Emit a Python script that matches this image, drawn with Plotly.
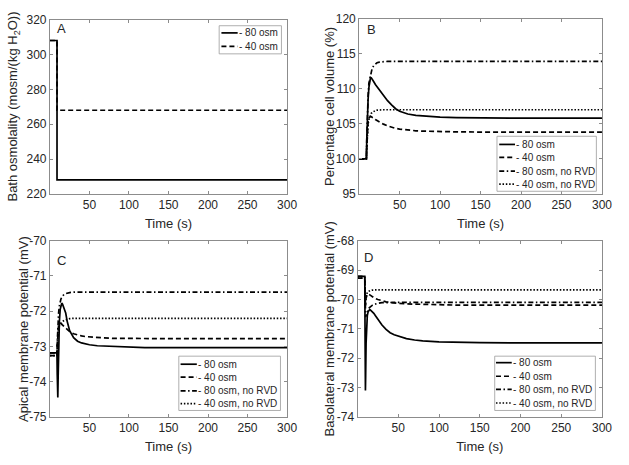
import plotly.graph_objects as go

W, H = 629, 465

# ---------------- data ----------------
# Panel A: bath osmolality
t_a = [0, 9, 9, 300]
osm_80 = [308, 308, 228, 228]
osm_40 = [308, 308, 268, 268]

# Common time base for panels B-D (s)
t = [0, 8.9, 9.3, 9.7, 10, 10.5, 11, 12, 13, 14, 15, 16, 18, 20, 22, 25, 30,
     35, 40, 45, 50, 60, 70, 80, 100, 120, 150, 200, 250, 300]

# Panel B: percentage cell volume
vol_80 = [100, 100, 102.5, 104.5, 105.8, 107.3, 108.5, 110.2, 111.2, 111.6,
          111.55, 111.4, 111.0, 110.6, 110.3, 109.9, 109.0, 108.3, 107.7,
          107.15, 106.8, 106.4, 106.2, 106.1, 105.95, 105.88, 105.83, 105.8,
          105.8, 105.8]
vol_40 = [100, 100, 101.5, 103, 104, 104.8, 105.3, 105.8, 106.0, 106.05,
          106.0, 105.95, 105.8, 105.6, 105.45, 105.25, 104.95, 104.7, 104.5,
          104.35, 104.25, 104.1, 104.0, 103.95, 103.88, 103.85, 103.82, 103.8,
          103.8, 103.8]
vol_80n = [100, 100, 102.5, 104.5, 106, 107.8, 109, 110.8, 111.4, 112.2,
           112.6, 112.9, 113.3, 113.55, 113.7, 113.8, 113.88, 113.9, 113.9,
           113.9, 113.9, 113.9, 113.9, 113.9, 113.9, 113.9, 113.9, 113.9,
           113.9, 113.9]
vol_40n = [100, 100, 101.5, 103, 103.8, 104.5, 105, 105.6, 106.0, 106.3,
           106.5, 106.6, 106.8, 106.9, 106.95, 107.0, 107.0, 107.0, 107.0,
           107.0, 107.0, 107.0, 107.0, 107.0, 107.0, 107.0, 107.0, 107.0,
           107.0, 107.0]

# Panel C: apical membrane potential (mV)
ap_80 = [-73.18, -73.18, -73.8, -74.3, -74.45, -73.8, -73.0, -72.3, -71.95,
         -71.8, -71.77, -71.8, -71.9, -72.05, -72.3, -72.55, -72.75, -72.85,
         -72.9, -72.93, -72.95, -72.98, -72.99, -73.0, -73.02, -73.03, -73.03,
         -73.03, -73.03, -73.03]
ap_40 = [-73.26, -73.26, -73.0, -72.7, -72.55, -72.45, -72.4, -72.36, -72.34,
         -72.35, -72.37, -72.39, -72.42, -72.47, -72.52, -72.58, -72.64,
         -72.68, -72.7, -72.72, -72.73, -72.75, -72.76, -72.77, -72.77, -72.78,
         -72.78, -72.78, -72.78, -72.78]
ap_80n = [-73.18, -73.18, -72.9, -72.6, -72.4, -72.2, -72.05, -71.85, -71.72,
          -71.65, -71.6, -71.56, -71.52, -71.5, -71.48, -71.47, -71.46, -71.46,
          -71.46, -71.46, -71.46, -71.46, -71.46, -71.46, -71.46, -71.46,
          -71.46, -71.46, -71.46, -71.46]
ap_40n = [-73.26, -73.26, -73.0, -72.7, -72.55, -72.48, -72.45, -72.42,
          -72.38, -72.34, -72.31, -72.29, -72.26, -72.24, -72.22, -72.21,
          -72.2, -72.2, -72.2, -72.2, -72.2, -72.2, -72.2, -72.2, -72.2,
          -72.2, -72.2, -72.2, -72.2, -72.2]

# Panel D: basolateral membrane potential (mV)
ba_80 = [-69.21, -69.21, -71.5, -73.1, -72.6, -71.5, -70.9, -70.55, -70.42,
         -70.36, -70.34, -70.36, -70.4, -70.47, -70.55, -70.68, -70.87, -71.02,
         -71.13, -71.2, -71.25, -71.33, -71.38, -71.41, -71.44, -71.46, -71.47,
         -71.48, -71.48, -71.48]
ba_40 = [-69.27, -69.27, -69.7, -70.2, -70.1, -69.95, -69.87, -69.82, -69.81,
         -69.82, -69.84, -69.86, -69.9, -69.94, -69.97, -70.0, -70.05, -70.08,
         -70.1, -70.12, -70.13, -70.15, -70.16, -70.17, -70.18, -70.19, -70.19,
         -70.19, -70.19, -70.19]
ba_80n = [-69.21, -69.21, -69.9, -70.5, -70.6, -70.55, -70.5, -70.42, -70.35,
          -70.3, -70.27, -70.24, -70.2, -70.17, -70.15, -70.13, -70.11, -70.1,
          -70.1, -70.1, -70.1, -70.1, -70.1, -70.1, -70.1, -70.1, -70.1, -70.1,
          -70.1, -70.1]
ba_40n = [-69.27, -69.27, -69.7, -70.2, -70.05, -69.9, -69.82, -69.76, -69.73,
          -69.71, -69.7, -69.69, -69.68, -69.67, -69.67, -69.67, -69.67,
          -69.67, -69.67, -69.67, -69.67, -69.67, -69.67, -69.67, -69.67,
          -69.67, -69.67, -69.67, -69.67, -69.67]

names4 = ["- 80 osm", "- 40 osm", "- 80 osm, no RVD", "- 40 osm, no RVD"]

x_ticks = [50, 100, 150, 200, 250, 300]
ya_ticks = [220, 240, 260, 280, 300, 320]
yb_ticks = [95, 100, 105, 110, 115, 120]
yc_ticks = [-75, -74, -73, -72, -71, -70]
yd_ticks = [-74, -73, -72, -71, -70, -69, -68]

# ---------------- styling ----------------
FONT = "Liberation Sans, Arial, sans-serif"
TXT = "#262626"
AXC = "#8c8c8c"
LW = 1.7
DASHES = ["solid", "5px,3px", "5px,2.5px,1.5px,2.5px", "1.5px,1.8px"]


def px(x):
    return x / W


def py(y):
    return 1 - y / H


fig = go.Figure()

panels = {
    "A": dict(ax="", box=(50.7, 291.7, 13, 192.7), ytx=14),
    "B": dict(ax="2", box=(365, 611.7, 12, 192.7), ytx=335),
    "C": dict(ax="3", box=(50.7, 291.7, 241, 422.7), ytx=24.5),
    "D": dict(ax="4", box=(363.3, 611.7, 241, 422.7), ytx=335),
}


def add_series(ax, xs, ys_list, names):
    for ys, nm, dash in zip(ys_list, names, DASHES):
        fig.add_trace(go.Scatter(
            x=xs, y=ys, name=nm, mode="lines",
            line=dict(color="black", width=LW, dash=dash),
            xaxis="x" + ax, yaxis="y" + ax, showlegend=False,
        ))


add_series("", t_a, [osm_80, osm_40], names4[:2])
add_series("2", t, [vol_80, vol_40, vol_80n, vol_40n], names4)
add_series("3", t, [ap_80, ap_40, ap_80n, ap_40n], names4)
add_series("4", t, [ba_80, ba_40, ba_80n, ba_40n], names4)

common = dict(
    showline=True, linecolor=AXC, linewidth=1, mirror="ticks",
    ticks="inside", ticklen=3, tickcolor=AXC, showgrid=False,
    zeroline=False, tickfont=dict(size=12, color=TXT, family=FONT),
)

ytitles = {
    "A": "Bath osmolality (mosm/(kg H<sub>2</sub>O))",
    "B": "Percentage cell volume (%)",
    "C": "Apical membrane potential (mV)",
    "D": "Basolateral membrane potential (mV)",
}
yranges = {"A": [220, 320], "B": [95, 120], "C": [-75, -70], "D": [-74, -68]}
yticks = {"A": ya_ticks, "B": yb_ticks, "C": yc_ticks, "D": yd_ticks}

shapes = []
annotations = []

layout_axes = {}
for key, p in panels.items():
    ax = p["ax"]
    x0, x1, y0, y1 = p["box"]
    xa = dict(common)
    xa.update(domain=[px(x0), px(x1)], range=[0, 300], tickvals=x_ticks,
              anchor="y" + ax,
              title=dict(text="Time (s)", standoff=7,
                         font=dict(size=13, color=TXT, family=FONT)))
    ya = dict(common)
    ya.update(domain=[py(y1), py(y0)], range=yranges[key],
              tickvals=yticks[key], ticktext=[str(v) for v in yticks[key]],
              anchor="x" + ax)
    layout_axes["xaxis" + ax] = xa
    layout_axes["yaxis" + ax] = ya
    # y-axis title placed as rotated text beside the axis
    annotations.append(dict(x=px(p["ytx"]), y=py((y0 + y1) / 2),
                            xref="paper", yref="paper", text=ytitles[key],
                            textangle=-90, showarrow=False,
                            xanchor="center", yanchor="middle",
                            font=dict(size=13, color=TXT, family=FONT)))

# panel letters
letters = {"A": (62.5, 22.5), "B": (377.5, 23), "C": (63, 261), "D": (374.7, 258)}
for k, (lx, ly) in letters.items():
    annotations.append(dict(x=px(lx), y=py(ly), xref="paper", yref="paper",
                            text=k, showarrow=False, xanchor="center",
                            yanchor="middle",
                            font=dict(size=13, color=TXT, family=FONT)))

# legends (drawn as boxes with line samples)
legends = [
    dict(box=(222.7, 19.3, 286, 48.3), rows=[26.7, 40.7], line=(225, 241.5), tx=241.5, n=2),
    dict(box=(505, 133.3, 606, 190), rows=[141.7, 155, 169.3, 182.7], line=(507.3, 523.3), tx=523.3, n=4),
    dict(box=(181.7, 360, 285, 416), rows=[368.3, 381.7, 395.7, 409], line=(183.5, 200), tx=200, n=4),
    dict(box=(502.7, 360, 605, 416), rows=[366.7, 380.7, 394.3, 408.3], line=(504, 520), tx=520, n=4),
]
for lg in legends:
    bx0, by0, bx1, by1 = lg["box"]
    shapes.append(dict(type="rect", xref="paper", yref="paper",
                       x0=px(bx0), x1=px(bx1), y0=py(by1), y1=py(by0),
                       line=dict(color="#9a9a9a", width=0.8), fillcolor="white",
                       layer="above"))
    for i in range(lg["n"]):
        ry = lg["rows"][i]
        shapes.append(dict(type="line", xref="paper", yref="paper",
                           x0=px(lg["line"][0]), x1=px(lg["line"][1]),
                           y0=py(ry), y1=py(ry), layer="above",
                           line=dict(color="black", width=LW, dash=DASHES[i])))
        annotations.append(dict(x=px(lg["tx"]), y=py(ry), xref="paper",
                                yref="paper", text=names4[i], showarrow=False,
                                xanchor="left", yanchor="middle", borderpad=0,
                                font=dict(size=10, color=TXT, family=FONT)))

fig.update_layout(
    width=W, height=H,
    margin=dict(l=0, r=0, t=0, b=0),
    paper_bgcolor="white", plot_bgcolor="white",
    font=dict(family=FONT, color=TXT),
    shapes=shapes, annotations=annotations,
    showlegend=False,
    **layout_axes,
)

fig.write_html("out.html",
               config={"displayModeBar": False},
               post_script="document.body.style.margin='0px';"
                           "document.body.style.overflow='hidden';")
